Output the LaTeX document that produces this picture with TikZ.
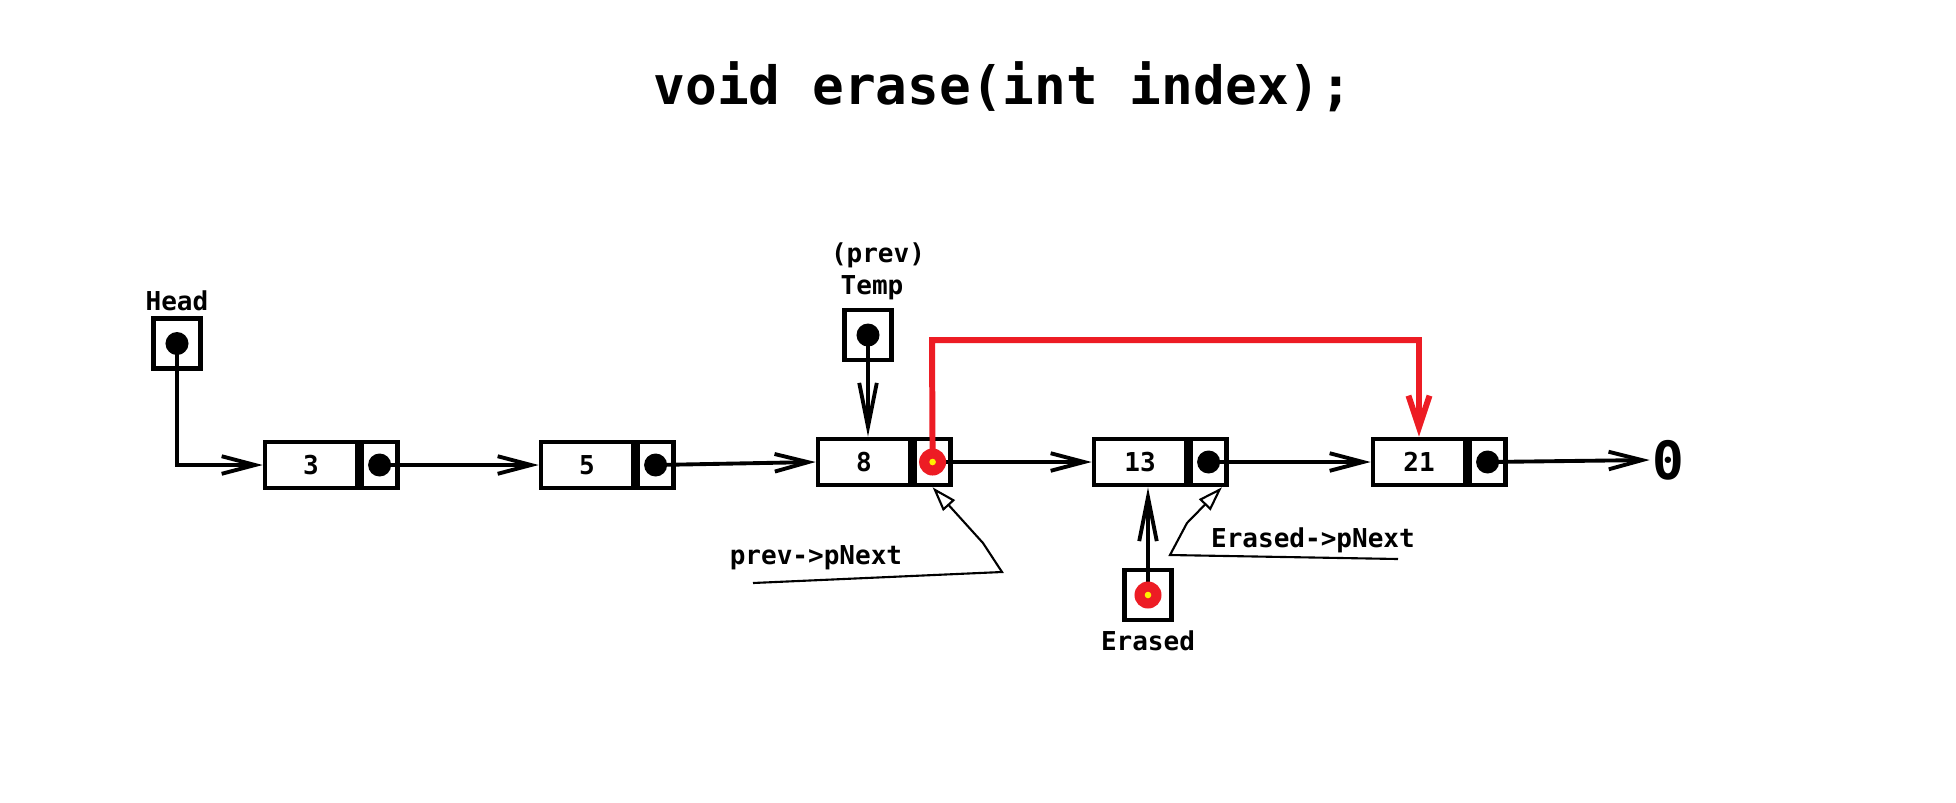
\documentclass[tikz,border=0pt]{standalone}
\usepackage{fontspec}
\setmonofont{DejaVu Sans Mono}
\usetikzlibrary{arrows.meta}
\definecolor{paintred}{RGB}{237,28,36}
\definecolor{paintyellow}{RGB}{255,242,0}
\tikzset{
	datcell/.style={draw, line width=1.3pt, minimum width=0.92cm, minimum height=0.46cm, inner sep=0pt, font=\ttfamily\bfseries\fontsize{7.4}{8}\selectfont},
	ptrcell/.style={draw, line width=1.3pt, minimum width=0.36cm, minimum height=0.46cm, inner sep=0pt, anchor=west},
	varbox/.style={draw, line width=1.3pt, minimum width=0.47cm, minimum height=0.5cm, inner sep=0pt},
	blackdot/.style={circle, fill=black, inner sep=0pt, minimum size=0.23cm},
	reddot/.style={circle, fill=paintred, inner sep=0pt, minimum size=0.27cm, path picture={\fill[paintyellow] (path picture bounding box.center) circle (0.033cm);}},
	lbl/.style={inner sep=0pt, font=\ttfamily\bfseries\fontsize{7.4}{9}\selectfont},
	link/.style={line width=1.1pt, -{Straight Barb[length=9.5pt,width=5pt]}},
	downlink/.style={line width=1.1pt, -{Straight Barb[length=12.5pt,width=5pt]}},
	redlink/.style={draw=paintred, line width=1.7pt, -{Straight Barb[length=9pt,width=6pt]}},
	note/.style={line width=0.6pt, -{Triangle[open,length=7pt,width=4.5pt]}}
}
\begin{document}
\begin{tikzpicture}[x=0.01cm, y=-0.01cm]
		\fill[white] (0,0) rectangle (1956,802);
		%Titel
		\node at (1003,87) [inner sep=0pt, font=\ttfamily\bfseries\fontsize{15}{18}\selectfont] (title) {void erase(int index);};
		%Liste
		\node at (311,465) [datcell] (d3) {3};
		\node at (d3.east) [ptrcell] (p3) {};
		\node at (587,465) [datcell] (d5) {5};
		\node at (d5.east) [ptrcell] (p5) {};
		\node at (864,462) [datcell] (d8) {8};
		\node at (d8.east) [ptrcell] (p8) {};
		\node at (1140,462) [datcell] (d13) {13};
		\node at (d13.east) [ptrcell] (p13) {};
		\node at (1419,462) [datcell] (d21) {21};
		\node at (d21.east) [ptrcell] (p21) {};
		\node at (1668,460) [inner sep=0.5pt, font=\ttfamily\bfseries\fontsize{15}{18}\selectfont] (null) {0};
		%Zeiger
		\node at (177,301) [lbl] (headlbl) {Head};
		\node at (177,343.5) [varbox] (head) {};
		\node at (878,255) [lbl] (prevlbl) {(prev)};
		\node at (872,288) [lbl] (templbl) {Temp};
		\node at (868,335) [varbox] (temp) {};
		\node at (1148,595) [varbox] (erased) {};
		\node at (1148,641) [lbl] (eraslbl) {Erased};
		%Verbindungen
		\draw[link] (head.center) |- (d3.west);
		\draw[link] (p3.center) -- (d5.west);
		\draw[link] (p5.center) -- (d8.west);
		\draw[link] (p8.center) -- (d13.west);
		\draw[link] (p13.center) -- (d21.west);
		\draw[link] (p21.center) -- (null.west);
		\draw[downlink] (temp.center) -- (temp.center |- d8.north);
		\draw[downlink] (erased.center) -- (erased.center |- d13.south);
		%Punkte
		\node at (head.center) [blackdot] (headdot) {};
		\node at (temp.center) [blackdot] (tempdot) {};
		\node at (p3.center) [blackdot] (dot3) {};
		\node at (p5.center) [blackdot] (dot5) {};
		\node at (p13.center) [blackdot] (dot13) {};
		\node at (p21.center) [blackdot] (dot21) {};
		%neuer Zeiger
		\coordinate (redtop) at (932,340);
		\draw[redlink] (p8.center) -- (redtop) -| (d21.north);
		\node at (p8.center) [reddot] (dot8) {};
		\node at (erased.center) [reddot] (erasdot) {};
		%Beschriftung
		\node at (816,558) [lbl] (prevnext) {prev->pNext};
		\coordinate (pn1) at (753,583);
		\coordinate (pn2) at (1002,572);
		\coordinate (pn3) at (983,543);
		\draw[note] (pn1) -- (pn2) -- (pn3) -- (p8.south);
		\node at (1313,540) [lbl] (erasnext) {Erased->pNext};
		\coordinate (en1) at (1398,559);
		\coordinate (en2) at (1170,555);
		\coordinate (en3) at (1187,523);
		\draw[note] (en1) -- (en2) -- (en3) -- ([xshift=-0.07cm]p13.south east);
\end{tikzpicture}
\end{document}
